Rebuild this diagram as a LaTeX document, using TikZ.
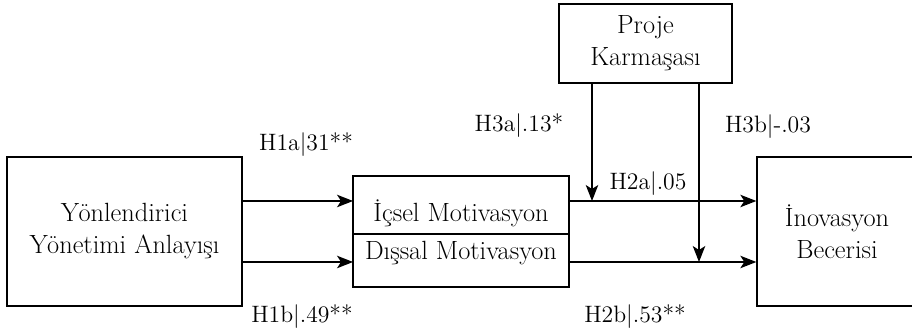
\documentclass[tikz,border=0pt]{standalone}
\usepackage{tikz}
\usetikzlibrary{arrows.meta,positioning}

\begin{document}
\begin{tikzpicture}[
    x=0.02cm, y=-0.02cm,
    box/.style={draw, line width=0.8pt, align=center, inner sep=0pt, font=\fontsize{15}{18.2}\selectfont},
    part/.style={draw, line width=0.8pt, align=center, inner sep=0pt, outer sep=0pt, minimum width=4.32cm, font=\fontsize{15}{18.2}\selectfont},
    lbl/.style={inner sep=0pt, font=\fontsize{13.5}{15}\selectfont},
    arrow/.style={-{Stealth[length=3.2mm, width=2.5mm, inset=0.8mm]}, line width=0.7pt}
]
\clip (0,0) rectangle (912,333);

\node[box, minimum width=4.7cm, minimum height=2.98cm] (yon) at (124.5,231.5) {Yönlendirici\\Yönetimi Anlayışı};
\node[part, minimum height=1.16cm, text height=0.76cm, text depth=0.1cm] (ic) at (461,205) {İçsel Motivasyon};
\node[part, minimum height=1.06cm, text height=0.36cm, text depth=0.38cm, below=0pt of ic] (dis) {Dışsal Motivasyon};
\node[box, minimum width=3.2cm, minimum height=2.98cm] (ino) at (837,231.5) {İnovasyon\\Becerisi};
\node[box, minimum width=3.46cm, minimum height=1.58cm] (proje) at (645.5,43.5) {Proje\\Karmaşası};

\coordinate (top) at (0,201);
\coordinate (bot) at (0,262);
\coordinate (m1) at (592,201);
\coordinate (m2) at (699,262);

\draw[arrow] (yon.east |- top) -- (ic.west |- top);
\draw[arrow] (yon.east |- bot) -- (dis.west |- bot);
\draw[arrow] (ic.east |- top) -- (ino.west |- top);
\draw[arrow] (dis.east |- bot) -- (ino.west |- bot);
\draw[arrow] (proje.south -| m1) -- (m1);
\draw[arrow] (proje.south -| m2) -- (m2);

% path coefficients
\node[lbl] (h1a) at (306,145) {H1a|31**};
\node[lbl] (h1b) at (302,317) {H1b|.49**};
\node[lbl] (h3a) at (519,126) {H3a|.13*};
\node[lbl] (h2a) at (648,184) {H2a|.05};
\node[lbl] (h3b) at (768,127) {H3b|-.03};
\node[lbl] (h2b) at (635,317) {H2b|.53**};
\end{tikzpicture}
\end{document}
